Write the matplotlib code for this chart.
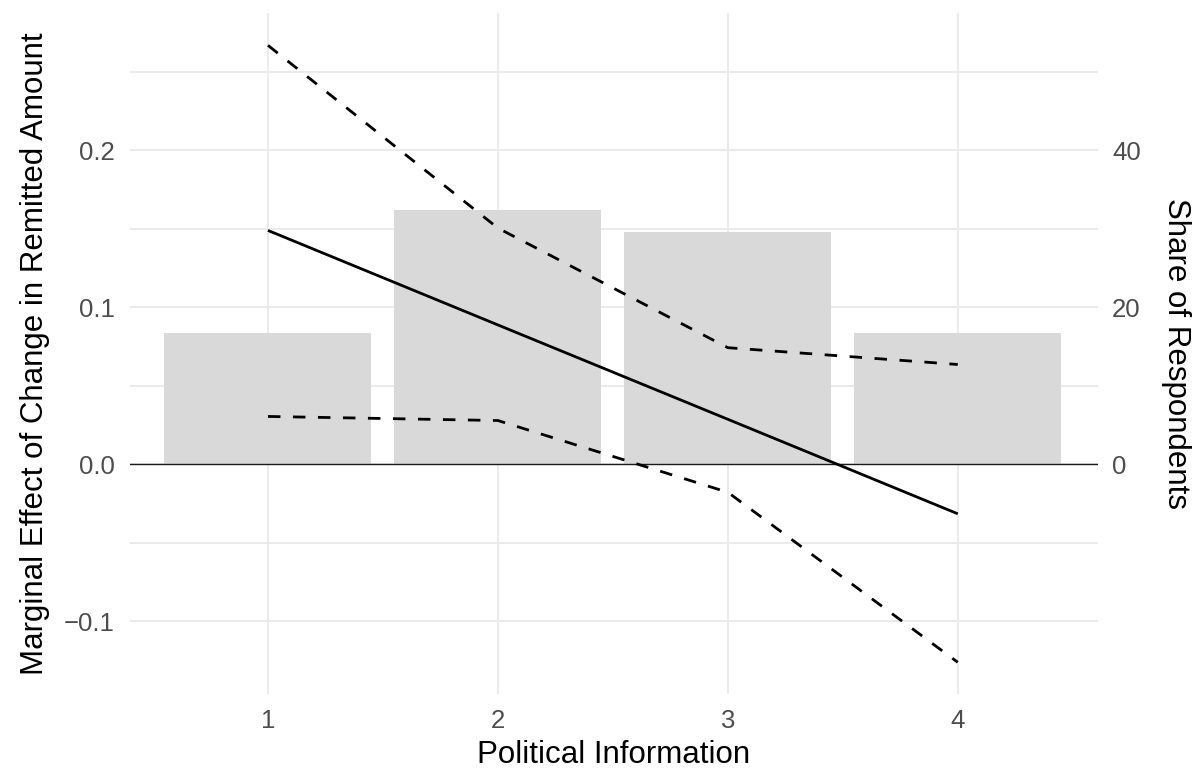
import matplotlib
matplotlib.use("Agg")
import matplotlib.pyplot as plt

# ---- data ----
political_info = [1, 2, 3, 4]
share_respondents = [16.7, 32.4, 29.6, 16.7]
marginal_effect = [0.1488, 0.0886, 0.0285, -0.0317]
upper_ci = [0.2667, 0.1503, 0.0741, 0.0634]
lower_ci = [0.0303, 0.0277, -0.0180, -0.1263]
x_ticks = [1, 2, 3, 4]
y_major = [-0.1, 0.0, 0.1, 0.2]
y_minor = [-0.05, 0.05, 0.15, 0.25]
right_ticks = [0, 20, 40]
SEC_SCALE = 200.0  # share = effect * 200

plt.rcParams['font.family'] = ['Liberation Sans', 'DejaVu Sans']

fig = plt.figure(figsize=(12.04, 7.69), dpi=100)
ax = fig.add_axes([130/1204, 1 - 694/769, (1098-130)/1204, (694-13)/769])

grid_col = '#EBEBEB'
ax.set_xlim(0.40, 4.61)
ax.set_ylim(-0.1465, 0.2873)

# grid
for yv in y_major + y_minor:
    ax.axhline(yv, color=grid_col, lw=1.4, zorder=0)
for xv in x_ticks:
    ax.axvline(xv, color=grid_col, lw=1.4, zorder=0)

# bars
ax.bar(political_info, [s / SEC_SCALE for s in share_respondents], width=0.9,
       color='#D9D9D9', zorder=1)

ax.axhline(0, color='#1a1a1a', lw=1.0, zorder=2)

ax.plot(political_info, marginal_effect, color='black', lw=2.0, zorder=3,
        solid_capstyle='butt')
ax.plot(political_info, upper_ci, color='black', lw=2.0, zorder=3,
        linestyle=(0, (4.5, 4.5)), dash_capstyle='butt')
ax.plot(political_info, lower_ci, color='black', lw=2.0, zorder=3,
        linestyle=(0, (4.5, 4.5)), dash_capstyle='butt')

for sp in ax.spines.values():
    sp.set_visible(False)

ax.set_xticks(x_ticks)
ax.set_xticklabels([str(v) for v in x_ticks])
ax.set_yticks(y_major)
ax.set_yticklabels(['\u22120.1', '0.0', '0.1', '0.2'])
ax.tick_params(axis='both', length=0, labelsize=18.5, labelcolor='#4D4D4D')
ax.tick_params(axis='x', pad=11)
ax.tick_params(axis='y', pad=11)

ax.set_xlabel('Political Information', fontsize=22.5, color='black')
ax.xaxis.set_label_coords(0.5, (694 - 755) / 681)
ax.xaxis.label.set_va('center')
ax.set_ylabel('Marginal Effect of Change in Remitted Amount', fontsize=22.5, color='black')
ax.yaxis.set_label_coords((35 - 130) / 968, 0.5)
ax.yaxis.label.set_va('center')

sec = ax.secondary_yaxis('right', functions=(lambda y: y * SEC_SCALE, lambda s: s / SEC_SCALE))
sec.set_yticks(right_ticks)
sec.set_yticklabels([str(v) for v in right_ticks])
sec.tick_params(length=0, labelsize=18.5, labelcolor='#4D4D4D', pad=10)
for sp in sec.spines.values():
    sp.set_visible(False)
sec.set_ylabel('Share of Respondents', fontsize=22.5, rotation=270, color='black',
               labelpad=15, va='bottom')

fig.savefig('out.png', dpi=100)
